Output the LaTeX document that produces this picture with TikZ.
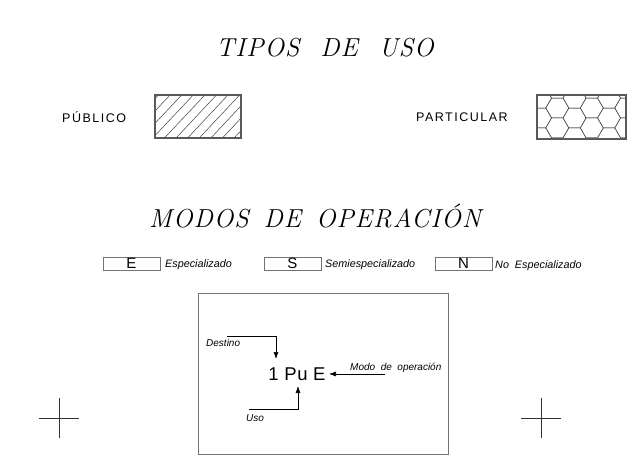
\documentclass[tikz,border=0pt]{standalone}
\usepackage{fontspec}
\usetikzlibrary{arrows.meta}
\setmainfont{Latin Modern Roman}
\newfontfamily\labfont{Liberation Sans}
\begin{document}
\begin{tikzpicture}[x=1pt,y=-1pt,
  title/.style={font=\fontsize{26}{26}\selectfont\itshape\addfontfeatures{LetterSpace=4}, inner sep=0pt},
  lab/.style={font=\labfont\fontsize{12.5}{12.5}\selectfont\addfontfeatures{LetterSpace=12}, inner sep=0pt},
  ilab/.style={font=\labfont\itshape\fontsize{10.8}{10.8}\selectfont, inner sep=0pt},
  flab/.style={font=\labfont\itshape\fontsize{10}{10}\selectfont, inner sep=0pt},
  keybox/.style={draw=black!55, line width=0.6pt, minimum width=57pt, minimum height=13pt, inner sep=0pt, font=\labfont\fontsize{15}{15}\selectfont},
  patbox/.style={draw=black!65, line width=1.6pt},
  arr/.style={line width=0.6pt, -{Latex[length=7pt,width=5pt]}},
  cross/.style={line width=0.6pt, draw=black!80}]
\useasboundingbox (0,0) rectangle (638,474);
% titles
\node[title, anchor=west] (t1) at (216,48) {TIPOS\hspace{21pt}DE\hspace{21pt}USO};
\node[title, anchor=west] (t2) at (149,216) {MODOS\hspace{15pt}DE\hspace{15pt}OPERACI\'ON};
% tipos de uso
\node[lab, anchor=west] (pub) at (62,117) {PÚBLICO};
\node[lab, anchor=west] (par) at (416,117) {PARTICULAR};
% hatched box
\begin{scope}
\clip (155,95) rectangle (241,138);
\foreach \i in {-6,...,10} {
  \draw[line width=0.5pt, black!75] (150+\i*11.6,141) -- ++(47,-50);
}
\end{scope}
\draw[patbox] (155,95) rectangle (241,138);
% honeycomb box
\begin{scope}
\clip (537,95) rectangle (626,139);
\def\r{11.5}
\foreach \i in {-2,...,5} {
  \foreach \j in {-2,...,3} {
    \pgfmathsetmacro{\cx}{557.3+1.5*\r*\i}
    \pgfmathsetmacro{\cy}{108+1.7320508*\r*(\j+0.5*mod(\i+2,2))}
    \draw[line width=0.5pt, black!70] (\cx+\r,\cy) -- (\cx+\r/2,\cy+0.8660254*\r) -- (\cx-\r/2,\cy+0.8660254*\r) -- (\cx-\r,\cy) -- (\cx-\r/2,\cy-0.8660254*\r) -- (\cx+\r/2,\cy-0.8660254*\r) -- cycle;
  }
}
\end{scope}
\draw[patbox] (537,95) rectangle (626,139);
% modes keys
\node[keybox] (kE) at (131.5,263.5) {E};
\node[keybox] (kS) at (292.5,263.5) {S};
\node[keybox] (kN) at (463.5,263.5) {N};
\node[ilab, anchor=west] (lE) at (165,265) {Especializado};
\node[ilab, anchor=west] (lS) at (325,265) {Semiespecializado};
\node[ilab, anchor=west] (lN) at (495,266) {No\ \ Especializado};
% frame
\node[draw=black!55, line width=0.6pt, minimum width=250pt, minimum height=161pt, inner sep=0pt] (frame) at (323,373.5) {};
% code
\node[font=\labfont\fontsize{18.5}{18.5}\selectfont\addfontfeatures{LetterSpace=3}, inner sep=0pt] (code) at (297,374) {1 Pu E};
\coordinate (dstart) at (227,336);
\coordinate (dtip) at (276,359);
\coordinate (mstart) at (385,374);
\coordinate (mtip) at (329,374);
\coordinate (ustart) at (249,409);
\coordinate (utip) at (298,386);
\draw[arr] (dstart) -| (dtip);
\draw[arr] (mstart) -- (mtip);
\draw[arr] (ustart) -| (utip);
\node[flab, anchor=west] (ldest) at (206,343) {Destino};
\node[flab, anchor=west] (lmodo) at (350,368) {Modo\ \ de\ \ operación};
\node[flab, anchor=west] (luso) at (246,418) {Uso};
% crosses
\coordinate (c1) at (59,418);
\coordinate (c2) at (541,418);
\draw[cross] ([xshift=-20pt]c1) -- ([xshift=20pt]c1) ([yshift=-20pt]c1) -- ([yshift=20pt]c1);
\draw[cross] ([xshift=-20pt]c2) -- ([xshift=20pt]c2) ([yshift=-20pt]c2) -- ([yshift=20pt]c2);
\end{tikzpicture}
\end{document}
